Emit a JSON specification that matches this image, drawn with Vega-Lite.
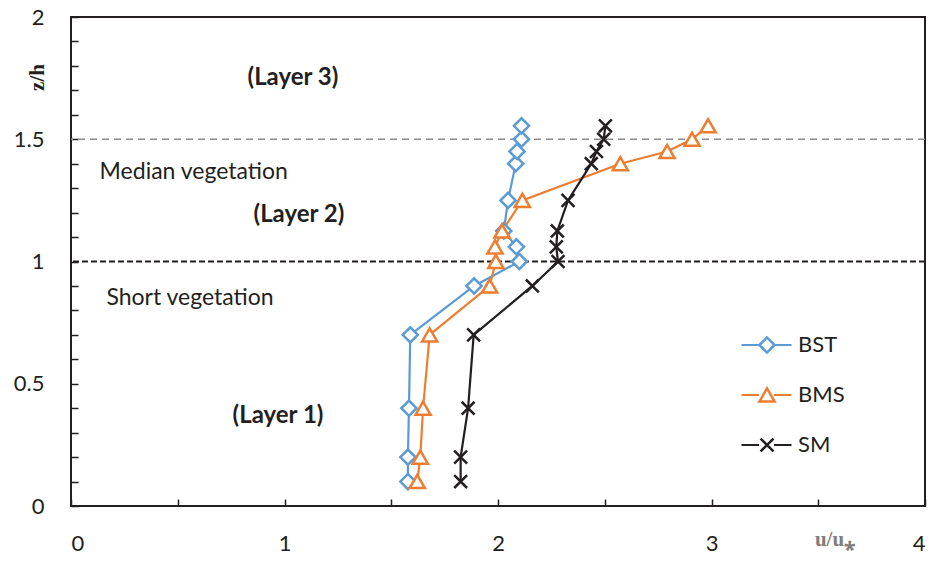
{
  "$schema": "https://vega.github.io/schema/vega-lite/v6.json",
  "autosize": "none",
  "width": 854,
  "height": 489,
  "padding": {"left": 71, "top": 17, "right": 11, "bottom": 55},
  "background": "white",
  "config": {
    "view": {"stroke": "#231f20", "strokeWidth": 2},
    "axis": {"grid": false, "domain": false, "tickColor": "#231f20", "tickWidth": 1.5, "tickSize": -7, "labelFont": "Lato", "labelColor": "#231f20", "labelOverlap": false}
  },
  "resolve": {"axis": {"y": "independent"}},
  "datasets": {
    "profiles": [
      {"series": "BST", "u": 1.578, "z": 0.1},
      {"series": "BST", "u": 1.578, "z": 0.2},
      {"series": "BST", "u": 1.583, "z": 0.4},
      {"series": "BST", "u": 1.589, "z": 0.7},
      {"series": "BST", "u": 1.888, "z": 0.9},
      {"series": "BST", "u": 2.1, "z": 1.0},
      {"series": "BST", "u": 2.086, "z": 1.06},
      {"series": "BST", "u": 2.027, "z": 1.125},
      {"series": "BST", "u": 2.047, "z": 1.25},
      {"series": "BST", "u": 2.083, "z": 1.4},
      {"series": "BST", "u": 2.089, "z": 1.45},
      {"series": "BST", "u": 2.11, "z": 1.5},
      {"series": "BST", "u": 2.11, "z": 1.555},
      {"series": "BMS", "u": 1.622, "z": 0.1},
      {"series": "BMS", "u": 1.636, "z": 0.2},
      {"series": "BMS", "u": 1.649, "z": 0.4},
      {"series": "BMS", "u": 1.68, "z": 0.7},
      {"series": "BMS", "u": 1.961, "z": 0.9},
      {"series": "BMS", "u": 1.99, "z": 1.0},
      {"series": "BMS", "u": 1.986, "z": 1.06},
      {"series": "BMS", "u": 2.019, "z": 1.125},
      {"series": "BMS", "u": 2.114, "z": 1.25},
      {"series": "BMS", "u": 2.573, "z": 1.4},
      {"series": "BMS", "u": 2.792, "z": 1.45},
      {"series": "BMS", "u": 2.909, "z": 1.5},
      {"series": "BMS", "u": 2.984, "z": 1.555},
      {"series": "SM", "u": 1.825, "z": 0.1},
      {"series": "SM", "u": 1.825, "z": 0.2},
      {"series": "SM", "u": 1.86, "z": 0.4},
      {"series": "SM", "u": 1.886, "z": 0.7},
      {"series": "SM", "u": 2.161, "z": 0.9},
      {"series": "SM", "u": 2.281, "z": 1.0},
      {"series": "SM", "u": 2.273, "z": 1.06},
      {"series": "SM", "u": 2.278, "z": 1.125},
      {"series": "SM", "u": 2.328, "z": 1.25},
      {"series": "SM", "u": 2.437, "z": 1.4},
      {"series": "SM", "u": 2.461, "z": 1.45},
      {"series": "SM", "u": 2.495, "z": 1.5},
      {"series": "SM", "u": 2.503, "z": 1.555}
    ],
    "notes": [
      {"label": "Median vegetation", "u": 0.134, "z": 1.366},
      {"label": "Short vegetation", "u": 0.166, "z": 0.851}
    ],
    "layers": [
      {"label": "(Layer 3)", "u": 0.827, "z": 1.75},
      {"label": "(Layer 2)", "u": 0.855, "z": 1.19},
      {"label": "(Layer 1)", "u": 0.757, "z": 0.368}
    ],
    "refs": [
      {"kind": "top", "z": 1.5},
      {"kind": "canopy", "z": 1.0}
    ]
  },
  "layer": [
    {
      "data": {"name": "profiles"},
      "mark": {"type": "line", "strokeWidth": 2.2},
      "encoding": {
        "x": {
          "field": "u", "type": "quantitative",
          "scale": {"domain": [0, 4], "nice": false, "zero": false},
          "axis": {
            "values": [0, 0.5, 1, 1.5, 2, 2.5, 3, 3.5, 4],
            "format": "~g",
            "labelExpr": "datum.value % 1 == 0 ? datum.label : ''",
            "labelOverlap": false,
            "labelFontSize": 22,
            "labelBaseline": "middle",
            "labelPadding": 44,
            "title": "u/u⁎",
            "titleFont": "Liberation Serif",
            "titleFontWeight": "bold",
            "titleFontSize": 21,
            "titleColor": "#7f7f7f",
            "titleX": 764,
            "titleY": 39,
            "titleBaseline": "alphabetic",
            "titleAlign": "center"
          }
        },
        "y": {
          "field": "z", "type": "quantitative",
          "scale": {"domain": [0, 2], "nice": false, "zero": false},
          "axis": {
            "orient": "left",
            "values": [0, 0.5, 1, 1.5, 2],
            "format": "~g",
            "labelOverlap": false,
            "labelFontSize": 22,
            "labelAlign": "right",
            "labelBaseline": "middle",
            "labelPadding": 34,
            "title": "z/h",
            "titleFont": "Liberation Serif",
            "titleFontWeight": "bold",
            "titleFontSize": 21,
            "titleColor": "#231f20",
            "titleX": -34,
            "titleY": 60,
            "titleAngle": -90,
            "titleAlign": "center",
            "titleBaseline": "middle"
          }
        },
        "order": {"field": "z", "type": "quantitative"},
        "stroke": {
          "field": "series", "type": "nominal",
          "sort": ["BST", "BMS", "SM"],
          "scale": {"range": ["#5b9bd5", "#ed7d31", "#231f20"]},
          "legend": {
            "title": null,
            "orient": "none",
            "legendX": 669,
            "legendY": 303,
            "padding": 0,
            "rowPadding": 0,
            "clipHeight": 50,
            "symbolType": "M-1,0L-0.3,0M0.3,0L1,0",
            "symbolSize": 2500,
            "symbolStrokeWidth": 2.2,
            "labelFont": "Lato",
            "labelFontSize": 22,
            "labelColor": "#231f20",
            "labelOffset": 5
          }
        }
      }
    },
    {
      "data": {"name": "refs"},
      "transform": [{"filter": "datum.kind == 'top'"}],
      "mark": {"type": "rule", "color": "#8c8c8c", "strokeWidth": 1.5, "strokeDash": [7, 5]},
      "encoding": {
        "y": {
          "field": "z", "type": "quantitative",
          "axis": {
            "orient": "left",
            "values": [0.1, 0.2, 0.3, 0.4, 0.6, 0.7, 0.8, 0.9, 1.1, 1.2, 1.3, 1.4, 1.6, 1.7, 1.8, 1.9],
            "labels": false,
            "title": null,
            "tickSize": -7,
            "domain": false,
            "grid": false
          }
        }
      }
    },
    {
      "data": {"name": "refs"},
      "transform": [{"filter": "datum.kind == 'canopy'"}],
      "mark": {"type": "rule", "color": "#231f20", "strokeWidth": 2, "strokeDash": [6, 3]},
      "encoding": {"y": {"field": "z", "type": "quantitative", "axis": null}}
    },
    {
      "data": {"name": "profiles"},
      "mark": {"type": "point", "filled": false, "fill": "white", "fillOpacity": 1, "opacity": 1, "strokeWidth": 2.5, "size": 230},
      "encoding": {
        "x": {"field": "u", "type": "quantitative"},
        "y": {"field": "z", "type": "quantitative", "axis": null},
        "color": {
          "field": "series", "type": "nominal",
          "scale": {"domain": ["BST", "BMS", "SM"], "range": ["#5b9bd5", "#ed7d31", "#231f20"]},
          "legend": {
            "title": null,
            "orient": "none",
            "legendX": 685,
            "legendY": 303,
            "padding": 0,
            "rowPadding": 0,
            "clipHeight": 50,
            "symbolSize": 230,
            "symbolStrokeWidth": 2.5,
            "symbolFillColor": "white",
            "symbolOpacity": 1,
            "labelFont": "Lato",
            "labelFontSize": 22,
            "labelOpacity": 0,
            "labelOffset": 5
          }
        },
        "shape": {
          "field": "series", "type": "nominal",
          "scale": {"domain": ["BST", "BMS", "SM"], "range": ["diamond", "triangle-up", "M-0.85,-0.85L0.85,0.85M0.85,-0.85L-0.85,0.85"]},
          "legend": {
            "title": null,
            "orient": "none",
            "legendX": 685,
            "legendY": 303,
            "padding": 0,
            "rowPadding": 0,
            "clipHeight": 50,
            "symbolSize": 230,
            "symbolStrokeWidth": 2.5,
            "symbolFillColor": "white",
            "symbolOpacity": 1,
            "labelFont": "Lato",
            "labelFontSize": 22,
            "labelOpacity": 0,
            "labelOffset": 5
          }
        }
      }
    },
    {
      "data": {"name": "notes"},
      "mark": {"type": "text", "align": "left", "baseline": "middle", "font": "Lato", "fontSize": 23, "color": "#231f20"},
      "encoding": {
        "x": {"field": "u", "type": "quantitative"},
        "y": {"field": "z", "type": "quantitative", "axis": null},
        "text": {"field": "label"}
      }
    },
    {
      "data": {"name": "layers"},
      "mark": {"type": "text", "align": "left", "baseline": "middle", "font": "Lato", "fontSize": 24, "fontWeight": "bold", "color": "#231f20"},
      "encoding": {
        "x": {"field": "u", "type": "quantitative"},
        "y": {"field": "z", "type": "quantitative", "axis": null},
        "text": {"field": "label"}
      }
    }
  ]
}
